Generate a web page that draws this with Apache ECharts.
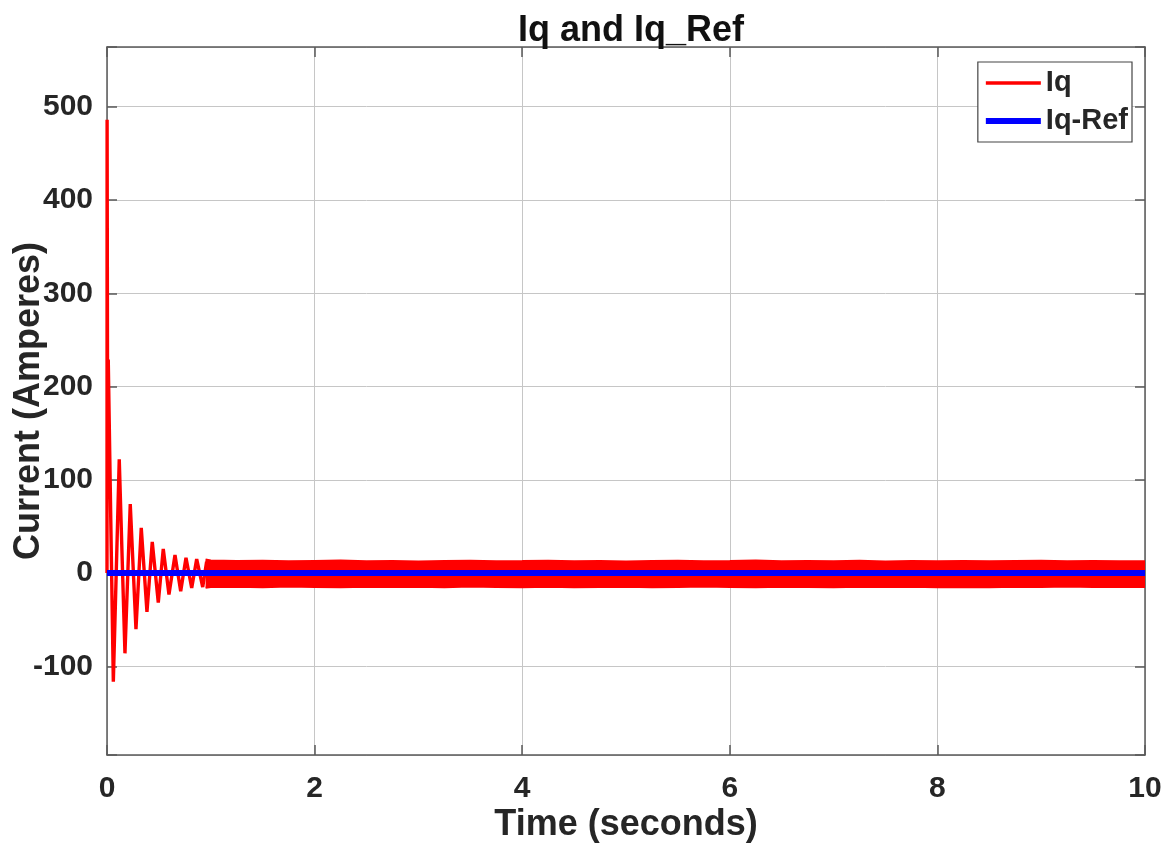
<!DOCTYPE html>
<html>
<head>
<meta charset="utf-8">
<script src="https://cdn.jsdelivr.net/npm/echarts@6/dist/echarts.min.js"></script>
<style>
  html, body { margin: 0; padding: 0; background: #ffffff; }
  #chart { width: 1174px; height: 846px; }
</style>
</head>
<body>
<div id="chart"></div>
<script>
// Iq transient: start-up spike and decaying oscillation (time in s, current in A)
const iqTime  = [0, 0.001, 0.006, 0.012, 0.061, 0.118, 0.173, 0.224, 0.279, 0.330, 0.385, 0.436, 0.494, 0.542, 0.597, 0.655, 0.710, 0.761, 0.816, 0.864, 0.922, 0.960];
const iqValue = [0, 486, 140, 229, -116.5, 122, -86, 74, -60, 48.5, -41.5, 33.5, -31.5, 26, -23, 19.3, -19.4, 16.4, -16, 15, -15, 12.5];

// Iq steady-state ripple band: upper and lower envelope of the fast oscillation
const bandTime  = [0.95, 1.0, 1.25, 1.5, 1.75, 2.0, 2.25, 2.5, 2.75, 3.0, 3.25, 3.5, 3.75, 4.0, 4.25, 4.5, 4.75, 5.0, 5.25, 5.5,
                   5.75, 6.0, 6.25, 6.5, 6.75, 7.0, 7.25, 7.5, 7.75, 8.0, 8.25, 8.5, 8.75, 9.0, 9.25, 9.5, 9.75, 10.0];
const bandUpper = [14.5, 13.6, 12.9, 13.3, 12.6, 13.0, 13.4, 12.7, 13.1, 12.5, 13.0, 13.3, 12.6, 12.9, 13.3, 12.7, 13.0, 12.5, 13.1, 13.2,
                   12.7, 12.9, 13.4, 12.6, 13.0, 12.8, 13.2, 12.5, 13.0, 12.8, 13.1, 12.6, 12.9, 13.2, 12.7, 13.0, 12.6, 12.8];
const bandLower = [-15.6, -15.0, -14.6, -15.2, -14.4, -14.9, -15.3, -14.5, -15.0, -14.7, -15.2, -14.4, -14.9, -15.1, -14.6, -15.3, -14.8, -14.5, -15.1, -14.9,
                   -14.4, -15.0, -15.2, -14.6, -14.9, -15.3, -14.7, -15.0, -14.5, -15.1, -14.8, -15.2, -14.6, -14.9, -14.4, -15.0, -14.7, -14.9];

// Iq reference
const refTime  = [0, 10];
const refValue = [0, 0];

// axis limits and tick labels
const xMin = 0, xMax = 10, xStep = 2;
const yMin = -195, yMax = 564, yStep = 100;

const FONT = '"Liberation Sans", Arial, Helvetica, sans-serif';
const TEXT = '#262626';
const AXIS = '#5a5a5a';
const GRID = '#c6c6c6';
const RED = '#ff0000';
const BLUE = '#0000ff';
const IQ_WIDTH = 3.4;
const REF_WIDTH = 6;

const zip = (xs, ys) => xs.map((x, i) => [x, ys[i]]);

const boxLine = { show: true, onZero: false, lineStyle: { color: AXIS, width: 1.5 } };
const boxTick = { show: true, inside: true, length: 10, lineStyle: { color: AXIS, width: 1.5 } };
const tickFont = { color: TEXT, fontFamily: FONT, fontWeight: 'bold', fontSize: 30 };
const nameFont = { color: TEXT, fontFamily: FONT, fontWeight: 'bold', fontSize: 36 };

const yLabel = v => (Math.abs(Math.round(v) % yStep) === 0 ? String(Math.round(v)) : '');

const chart = echarts.init(document.getElementById('chart'), null, { renderer: 'canvas' });

chart.setOption({
  animation: false,
  backgroundColor: '#ffffff',
  title: {
    text: 'Iq and Iq_Ref',
    left: 626,
    top: 8,
    textAlign: 'center',
    textStyle: { color: '#111111', fontFamily: FONT, fontWeight: 'bold', fontSize: 36 }
  },
  legend: {
    data: [
      { name: 'Iq', lineStyle: { color: RED, width: IQ_WIDTH } },
      { name: 'Iq-Ref', lineStyle: { color: BLUE, width: REF_WIDTH } }
    ],
    orient: 'vertical',
    right: 42,
    top: 62,
    itemWidth: 55,
    itemHeight: 14,
    itemGap: 6,
    padding: [5, 4, 5, 5],
    borderColor: '#444444',
    borderWidth: 1.2,
    borderRadius: 0,
    backgroundColor: '#ffffff',
    selectedMode: false,
    itemStyle: { opacity: 0 },
    textStyle: { color: TEXT, fontFamily: FONT, fontWeight: 'bold', fontSize: 29, lineHeight: 32 }
  },
  grid: { left: 107, right: 29, top: 47, bottom: 91, containLabel: false, outerBoundsMode: 'none' },
  xAxis: [
    {
      type: 'value', min: xMin, max: xMax, interval: xStep, position: 'bottom',
      axisLine: boxLine, axisTick: boxTick,
      axisLabel: Object.assign({ margin: 19 }, tickFont),
      splitLine: { show: true, lineStyle: { color: GRID, width: 1 } },
      name: 'Time (seconds)', nameLocation: 'middle', nameGap: 52, nameMoveOverlap: false, nameTextStyle: nameFont
    },
    {
      type: 'value', min: xMin, max: xMax, interval: xStep, position: 'top',
      axisLine: boxLine, axisTick: boxTick,
      axisLabel: { show: false }, splitLine: { show: false }
    }
  ],
  yAxis: [
    {
      type: 'value', min: yMin, max: yMax, splitNumber: 8, minInterval: yStep, maxInterval: yStep, position: 'left',
      axisLine: boxLine, axisTick: boxTick,
      axisLabel: Object.assign({ margin: 14, formatter: yLabel }, tickFont),
      splitLine: { show: true, lineStyle: { color: GRID, width: 1 } },
      name: 'Current (Amperes)', nameLocation: 'middle', nameGap: 60, nameMoveOverlap: false, nameTextStyle: nameFont
    },
    {
      type: 'value', min: yMin, max: yMax, splitNumber: 8, minInterval: yStep, maxInterval: yStep, position: 'right',
      axisLine: boxLine, axisTick: boxTick,
      axisLabel: { show: false }, splitLine: { show: false }
    }
  ],
  series: [
    {
      name: 'Iq', type: 'line', data: zip(iqTime, iqValue),
      symbol: 'none', z: 3,
      lineStyle: { color: RED, width: IQ_WIDTH }, itemStyle: { color: RED }
    },
    {
      name: 'Iq', type: 'line', data: zip(bandTime, bandUpper),
      symbol: 'none', z: 3,
      lineStyle: { color: RED, width: 2 }, itemStyle: { color: RED },
      areaStyle: { color: RED, opacity: 1 }
    },
    {
      name: 'Iq', type: 'line', data: zip(bandTime, bandLower),
      symbol: 'none', z: 3,
      lineStyle: { color: RED, width: 2 }, itemStyle: { color: RED },
      areaStyle: { color: RED, opacity: 1 }
    },
    {
      name: 'Iq-Ref', type: 'line', data: zip(refTime, refValue),
      symbol: 'none', z: 5,
      lineStyle: { color: BLUE, width: REF_WIDTH }, itemStyle: { color: BLUE }
    }
  ]
});
</script>
</body>
</html>
